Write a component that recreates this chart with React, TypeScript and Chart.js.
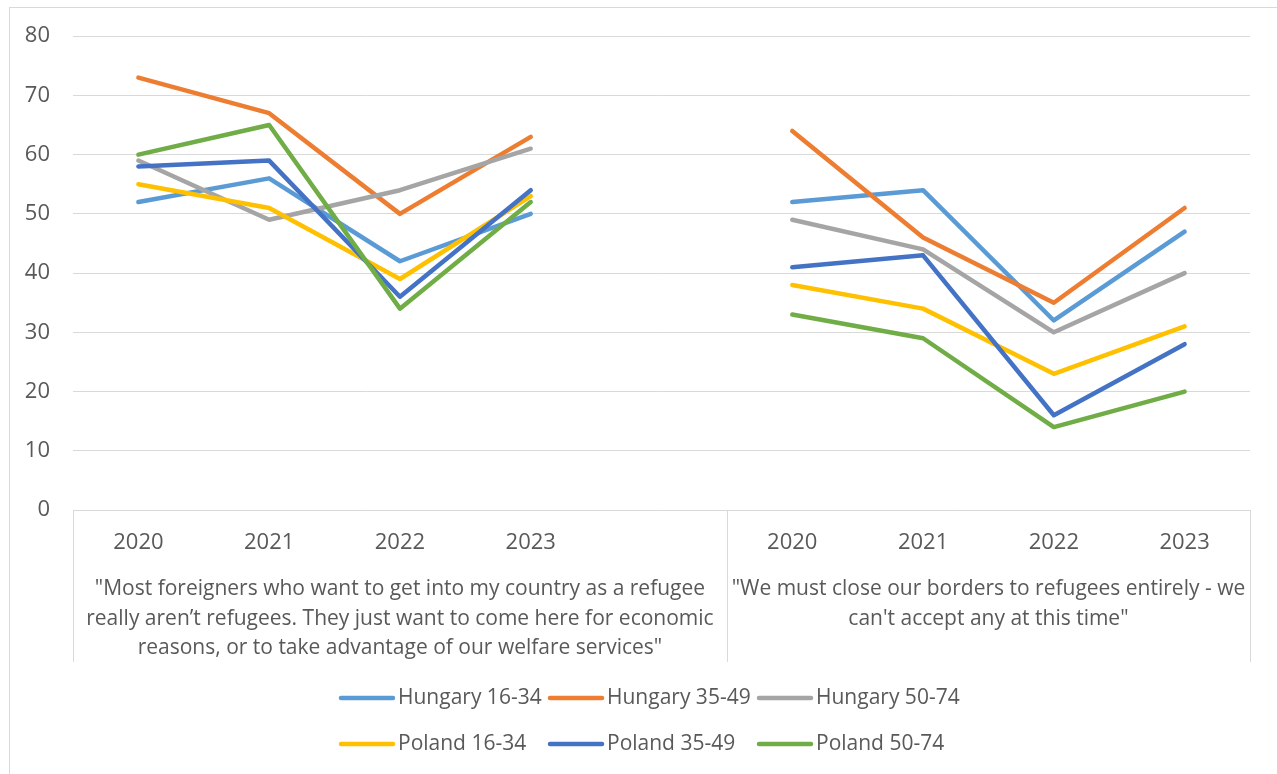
import { useEffect, useRef } from "react";
import { Chart, registerables } from "chart.js";

Chart.register(...registerables);

const yearLabels = ["2020", "2021", "2022", "2023", "", "2020", "2021", "2022", "2023"];
const groupSizes = [5, 4];
const groupLabels = [
  [
    "\"Most foreigners who want to get into my country as a refugee",
    "really aren\u2019t refugees. They just want to come here for economic",
    "reasons, or to take advantage of our welfare services\"",
  ],
  [
    "\"We must close our borders to refugees entirely - we",
    "can't accept any at this time\"",
  ],
];

const seriesNames = [
  "Hungary 16-34",
  "Hungary 35-49",
  "Hungary 50-74",
  "Poland 16-34",
  "Poland 35-49",
  "Poland 50-74",
];
const seriesColors = ["#5B9BD5", "#ED7D31", "#A5A5A5", "#FFC000", "#4472C4", "#70AD47"];

const hungary1634 = [52, 56, 42, 50, null, 52, 54, 32, 47];
const hungary3549 = [73, 67, 50, 63, null, 64, 46, 35, 51];
const hungary5074 = [59, 49, 54, 61, null, 49, 44, 30, 40];
const poland1634 = [55, 51, 39, 53, null, 38, 34, 23, 31];
const poland3549 = [58, 59, 36, 54, null, 41, 43, 16, 28];
const poland5074 = [60, 65, 34, 52, null, 33, 29, 14, 20];

const seriesValues = [hungary1634, hungary3549, hungary5074, poland1634, poland3549, poland5074];

const yMin = 0;
const yMax = 80;
const yStep = 10;

const FONT = "'Open Sans', 'Noto Sans', sans-serif";
const TEXT_COLOR = "#595959";
const GRID_COLOR = "#d9d9d9";

const decorPlugin = {
  id: "decor",
  beforeDraw(chart: any) {
    const ctx = chart.ctx;
    ctx.save();
    ctx.strokeStyle = GRID_COLOR;
    ctx.lineWidth = 1;
    ctx.strokeRect(9.5, 7.5, chart.width + 20, chart.height + 20);
    ctx.restore();
  },
  afterDraw(chart: any) {
    const ctx = chart.ctx;
    const xs = chart.scales.x;
    const area = chart.chartArea;
    ctx.save();
    const bounds: number[] = [-0.5];
    let acc = -0.5;
    groupSizes.forEach((n) => {
      acc += n;
      bounds.push(acc);
    });
    const pix = (v: number) => {
      const a = xs.getPixelForValue(Math.floor(v));
      const b = xs.getPixelForValue(Math.floor(v) + 1);
      return a + (b - a) * (v - Math.floor(v));
    };
    ctx.strokeStyle = GRID_COLOR;
    ctx.lineWidth = 1;
    bounds.forEach((b) => {
      const x = Math.round(pix(b)) + 0.5;
      ctx.beginPath();
      ctx.moveTo(x, area.bottom);
      ctx.lineTo(x, area.bottom + 152);
      ctx.stroke();
    });
    ctx.fillStyle = TEXT_COLOR;
    ctx.font = `21px ${FONT}`;
    ctx.textAlign = "center";
    ctx.textBaseline = "middle";
    groupLabels.forEach((lines, gi) => {
      const cx = (pix(bounds[gi]) + pix(bounds[gi + 1])) / 2;
      lines.forEach((line, li) => {
        ctx.fillText(line, cx, area.bottom + 79 + li * 29.7);
      });
    });
    const legendLeft = 339;
    const colW = 209;
    const rowY = [698, 744];
    const lineLen = 56;
    ctx.textAlign = "left";
    chart.data.datasets.forEach((ds: any, i: number) => {
      const col = i % 3;
      const row = Math.floor(i / 3);
      const x0 = legendLeft + col * colW;
      const y = rowY[row];
      ctx.strokeStyle = ds.borderColor;
      ctx.lineWidth = 4.5;
      ctx.lineCap = "round";
      ctx.beginPath();
      ctx.moveTo(x0 + 2, y);
      ctx.lineTo(x0 + lineLen - 2, y);
      ctx.stroke();
      ctx.fillStyle = TEXT_COLOR;
      ctx.fillText(ds.label, x0 + lineLen + 3, y);
    });
    ctx.restore();
  },
};

export default function App() {
  const canvasRef = useRef<HTMLCanvasElement | null>(null);

  useEffect(() => {
    if (!canvasRef.current) return;
    const chart = new Chart(canvasRef.current, {
      type: "line",
      data: {
        labels: yearLabels,
        datasets: seriesNames.map((name, i) => ({
          label: name,
          data: seriesValues[i],
          borderColor: seriesColors[i],
          backgroundColor: seriesColors[i],
          borderWidth: 4.5,
          borderCapStyle: "round" as const,
          borderJoinStyle: "round" as const,
          pointRadius: 0,
          pointHoverRadius: 0,
          tension: 0,
          spanGaps: false,
          order: seriesNames.length - 1 - i,
        })),
      },
      options: {
        animation: false,
        responsive: false,
        devicePixelRatio: 1,
        layout: { padding: { left: 10, top: 36, right: 27, bottom: 0 } },
        plugins: {
          legend: { display: false },
          tooltip: { enabled: false },
        },
        scales: {
          x: {
            type: "category",
            offset: true,
            grid: { display: false, drawTicks: false },
            border: { display: false },
            ticks: {
              color: TEXT_COLOR,
              font: { family: FONT, size: 22 },
              padding: 20,
              maxRotation: 0,
              autoSkip: false,
            },
            afterFit(scale: any) {
              scale.height = 264;
            },
          },
          y: {
            min: yMin,
            max: yMax,
            grid: { color: GRID_COLOR, lineWidth: 1, drawTicks: false },
            border: { display: false },
            ticks: {
              stepSize: yStep,
              color: TEXT_COLOR,
              font: { family: FONT, size: 22 },
              padding: 23,
            },
            afterFit(scale: any) {
              scale.width = 63;
            },
          },
        },
      },
      plugins: [decorPlugin],
    });
    return () => chart.destroy();
  }, []);

  return (
    <div style={{ position: "fixed", left: 0, top: 0, width: 1277, height: 774, background: "#fff" }}>
      <canvas ref={canvasRef} width={1277} height={774} />
    </div>
  );
}
